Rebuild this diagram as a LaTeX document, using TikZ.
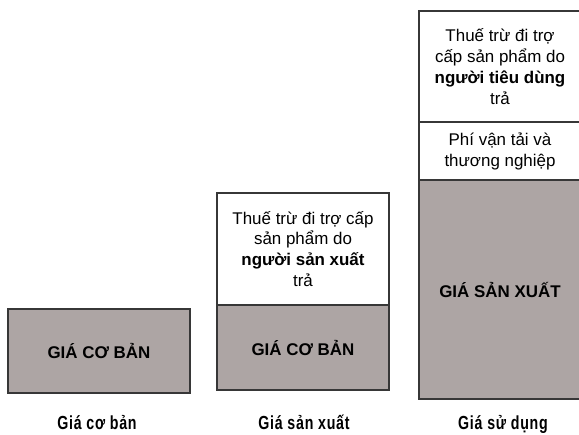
\documentclass[tikz,border=0pt]{standalone}
\usepackage{fontspec}
\setmainfont{Liberation Sans}
\newfontfamily\lblfont[FakeStretch=0.75,LetterSpace=4]{Liberation Sans}
\definecolor{boxgray}{RGB}{173,165,164}
\definecolor{edge}{RGB}{55,55,55}
\begin{document}
\begin{tikzpicture}[x=1bp,y=-1bp,
  base/.style={rectangle, draw=edge, line width=1.2bp, inner sep=0pt, align=center,
    font=\fontsize{17}{21}\selectfont},
  graybox/.style={base, fill=boxgray, font=\fontsize{17}{21}\selectfont\bfseries},
  whitebox/.style={base, fill=white},
  lbl/.style={font=\lblfont\bfseries\fontsize{19}{21}\selectfont, inner sep=0pt, anchor=base}]
\useasboundingbox (0,0) rectangle (579,435);
\begin{scope}
\clip (0,0) rectangle (579,435);
% column 1
\node[graybox, minimum width=182bp, minimum height=84bp] (b1) at (99,351) {GIÁ CƠ BẢN};
% column 2
\node[whitebox, minimum width=172bp, minimum height=112bp] (t2) at (303,249)
  {Thuế trừ đi trợ cấp\\sản phẩm do\\\textbf{người sản xuất}\\trả};
\node[graybox, minimum width=172bp, minimum height=85bp] (b2) at (303,347.5) {GIÁ CƠ BẢN};
% column 3
\node[whitebox, minimum width=162bp, minimum height=111bp] (t3) at (500,66.5)
  {Thuế trừ đi trợ\\cấp sản phẩm do\\\textbf{người tiêu dùng}\\trả};
\node[whitebox, minimum width=162bp, minimum height=58bp] (m3) at (500,151)
  {Phí vận tải và\\thương nghiệp};
\node[graybox, minimum width=162bp, minimum height=219bp] (b3) at (500,289.5) {GIÁ SẢN XUẤT};
\end{scope}
% labels
\node[lbl] (l1) at (97,429) {Giá cơ bản};
\node[lbl] (l2) at (304,429) {Giá sản xuất};
\node[lbl] (l3) at (503,429) {Giá sử dụng};
\end{tikzpicture}
\end{document}
